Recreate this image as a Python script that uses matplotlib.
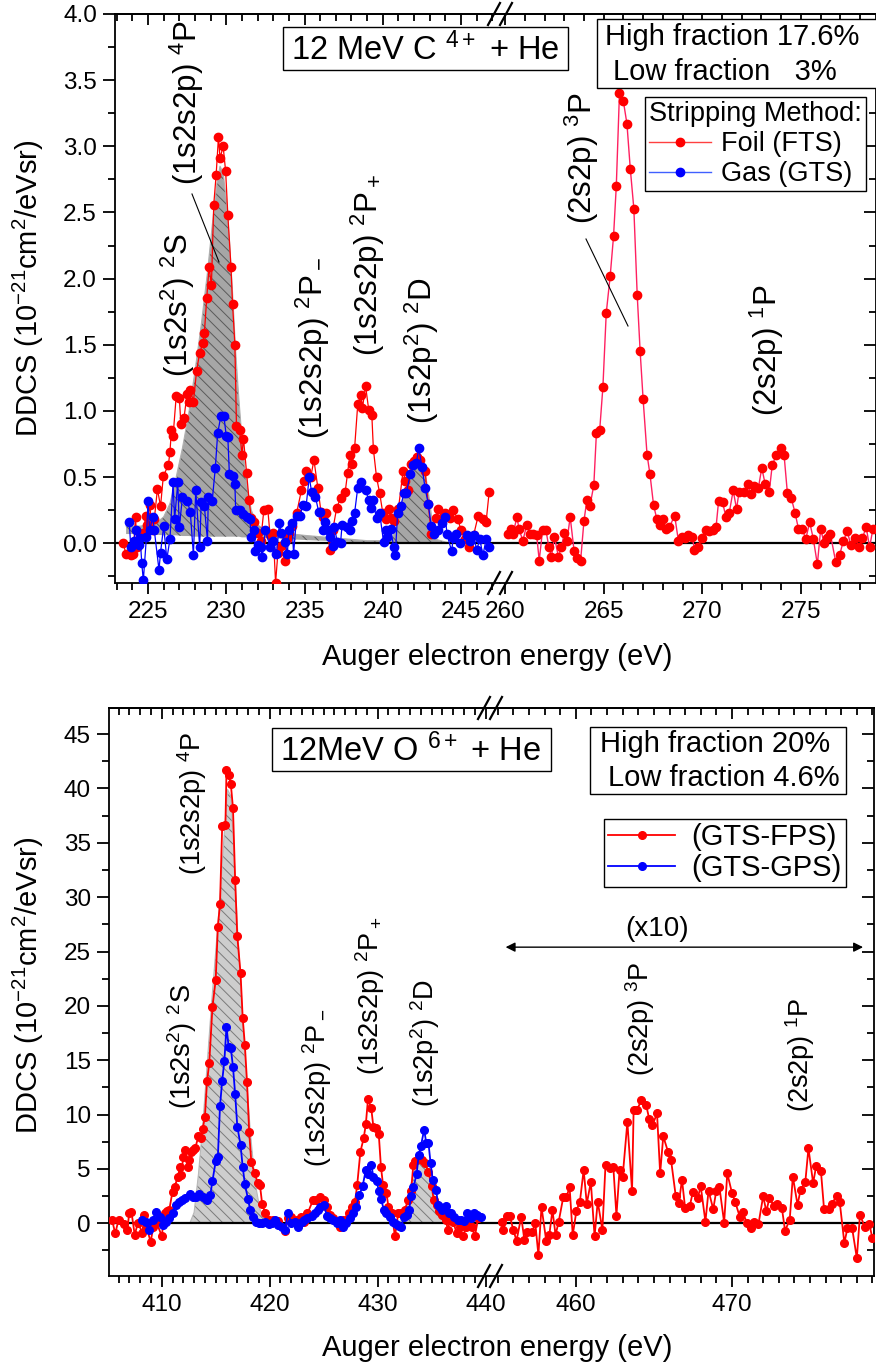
import matplotlib
matplotlib.use('Agg')
import matplotlib.pyplot as plt
from matplotlib.lines import Line2D
from matplotlib.patches import Rectangle
from matplotlib.ticker import MultipleLocator, FormatStrFormatter

plt.rcParams['font.family'] = ['Liberation Sans', 'DejaVu Sans']
plt.rcParams['mathtext.fontset'] = 'custom'
plt.rcParams['mathtext.rm'] = 'Liberation Sans'
plt.rcParams['mathtext.it'] = 'Liberation Sans:italic'
plt.rcParams['mathtext.bf'] = 'Liberation Sans:bold'
plt.rcParams['hatch.linewidth'] = 0.7

# ---------------- C4+ + He : foil stripped (low energy part) ----------------
c_foil_x = [223.4, 223.6, 223.9, 224.05, 224.2, 224.3, 224.5, 224.7, 224.86, 224.96,
            225.1, 225.3, 225.4, 225.6, 225.8, 225.98, 226.3, 226.4, 226.5, 226.6,
            226.8, 227.0, 227.1, 227.3, 227.5, 227.6, 227.7, 227.9, 228.1, 228.3,
            228.5, 228.6, 228.75, 228.9, 229.05, 229.2, 229.35, 229.5, 229.6, 229.8,
            229.96, 230.1, 230.3, 230.4, 230.55, 230.65, 230.85, 231.0, 231.1, 231.3,
            231.45, 231.6, 231.8, 232.0, 232.2, 232.4, 232.65, 232.8, 233.0, 233.15,
            233.3, 233.5, 233.75, 233.85, 234.0, 234.2, 234.5, 234.8, 234.97, 235.1,
            235.4, 235.6, 235.85, 236.05, 236.2, 236.4, 236.6, 236.8, 237.06, 237.3,
            237.6, 237.75, 237.9, 238.05, 238.2, 238.4, 238.6, 238.7, 238.9, 239.1,
            239.3, 239.4, 239.6, 239.8, 240.0, 240.2, 240.4, 240.5, 240.7, 241.0,
            241.3, 241.45, 241.6, 241.8, 242.0, 242.2, 242.4, 242.7, 242.9, 243.1,
            243.4, 243.55, 243.8, 244.0, 244.3, 244.5, 244.8, 245.0, 245.25, 245.5,
            245.8, 246.1, 246.4, 246.6, 246.8]
c_foil_y = [0.00, -0.08, -0.09, -0.08, 0.20, -0.03, 0.05, 0.08, 0.21, 0.14,
            0.29, 0.10, 0.18, 0.41, 0.28, 0.51, 0.59, 0.69, 0.86, 0.81,
            1.11, 1.10, 0.90, 0.95, 1.13, 1.07, 1.16, 1.07, 1.30, 1.44,
            1.51, 1.59, 1.85, 2.09, 1.95, 2.56, 2.78, 3.07, 2.91, 3.00,
            2.81, 2.48, 2.09, 1.81, 1.50, 0.89, 0.86, 0.67, 0.79, 0.53,
            0.33, 0.19, 0.16, 0.08, 0.02, 0.25, 0.26, 0.06, 0.08, -0.30,
            -0.07, -0.02, -0.13, 0.03, 0.08, 0.13, 0.23, 0.40, 0.47, 0.55,
            0.50, 0.63, 0.42, 0.24, 0.20, 0.23, -0.05, 0.10, 0.27, 0.34,
            0.39, 0.53, 0.67, 0.60, 0.72, 1.05, 1.12, 1.02, 1.19, 1.01,
            0.97, 0.71, 0.50, 0.38, 0.23, 0.18, 0.26, 0.19, 0.17, 0.26,
            0.55, 0.47, 0.40, 0.60, 0.62, 0.65, 0.63, 0.55, 0.30, 0.07,
            0.19, 0.26, 0.18, 0.23, 0.19, 0.25, 0.18, 0.10, 0.03, -0.03,
            0.06, 0.21, 0.18, 0.16, 0.39]

# ---------------- C4+ + He : gas stripped ----------------
c_gas_x = [223.8, 223.9, 224.1, 224.2, 224.4, 224.5, 224.6, 224.7, 224.9, 225.0,
           225.1, 225.3, 225.4, 225.7, 225.8, 226.0, 226.2, 226.4, 226.6, 226.7,
           226.9, 227.0, 227.2, 227.5, 227.7, 227.9, 228.05, 228.3, 228.4, 228.6,
           228.8, 228.85, 229.1, 229.3, 229.45, 229.65, 229.85, 230.0, 230.1, 230.2,
           230.4, 230.55, 230.6, 230.85, 231.05, 231.3, 231.5, 231.6, 231.8, 231.85,
           232.05, 232.2, 232.3, 232.5, 232.8, 233.0, 233.2, 233.4, 233.5, 233.75,
           233.9, 234.0, 234.2, 234.3, 234.5, 234.7, 234.9, 235.1, 235.3, 235.45,
           235.7, 235.9, 236.0, 236.2, 236.3, 236.5, 236.6, 236.8, 236.9, 237.1,
           237.3, 237.4, 237.7, 237.9, 238.05, 238.2, 238.4, 238.6, 238.9, 239.1,
           239.25, 239.35, 239.6, 239.8, 240.05, 240.2, 240.3, 240.5, 240.7, 240.8,
           240.95, 241.15, 241.35, 241.5, 241.75, 241.95, 242.15, 242.3, 242.5, 242.7,
           242.9, 243.1, 243.3, 243.5, 243.8, 244.0, 244.1, 244.4, 244.5, 244.7,
           244.95, 245.4, 245.6, 245.8, 246.0, 246.2, 246.4, 246.6, 246.8]
c_gas_y = [0.16, -0.03, 0.02, 0.10, -0.01, 0.04, -0.15, -0.28, 0.05, 0.32,
           0.10, 0.20, 0.10, -0.20, -0.07, 0.13, -0.12, 0.03, 0.46, 0.18,
           0.46, 0.12, 0.35, 0.32, 0.24, -0.09, 0.40, -0.03, 0.31, 0.28,
           0.02, 0.35, 0.32, 0.57, 0.83, 0.96, 0.96, 0.81, 0.80, 0.52,
           0.51, 0.45, 0.25, 0.25, 0.22, 0.20, 0.18, 0.05, 0.10, -0.06,
           -0.01, -0.03, -0.10, 0.10, -0.03, 0.02, -0.08, 0.15, 0.08, 0.01,
           -0.08, 0.10, 0.15, -0.08, 0.21, 0.21, 0.29, 0.28, 0.50, 0.39,
           0.35, 0.24, 0.24, 0.10, 0.16, 0.10, 0.05, -0.02, 0.12, 0.01,
           0.00, 0.14, 0.12, 0.10, 0.17, 0.23, 0.42, 0.46, 0.40, 0.33,
           0.27, 0.33, 0.19, 0.23, 0.01, 0.10, 0.05, 0.11, -0.03, -0.09,
           0.23, 0.28, 0.38, 0.38, 0.52, 0.59, 0.61, 0.72, 0.58, 0.42,
           0.30, 0.13, 0.07, 0.10, 0.15, 0.20, 0.07, -0.06, 0.04, 0.07,
           0.00, 0.06, 0.02, 0.06, -0.05, 0.03, -0.09, 0.03, -0.03]

# ---------------- C4+ + He : foil stripped (2s2p region) ----------------
c_hi_x = [260.16, 260.3, 260.4, 260.6, 260.7, 260.9, 261.1, 261.25, 261.4, 261.6,
          261.73, 261.9, 262.07, 262.22, 262.35, 262.5, 262.7, 262.86, 263.0, 263.14,
          263.3, 263.5, 263.65, 263.83, 264.0, 264.15, 264.3, 264.5, 264.63, 264.8,
          264.96, 265.13, 265.33, 265.5, 265.64, 265.8, 266.0, 266.18, 266.35, 266.53,
          266.7, 266.85, 267.0, 267.2, 267.35, 267.53, 267.7, 267.86, 268.0, 268.17,
          268.33, 268.6, 268.79, 268.96, 269.13, 269.3, 269.5, 269.6, 269.78, 269.97,
          270.2, 270.36, 270.53, 270.7, 270.83, 271.03, 271.2, 271.37, 271.57, 271.74,
          271.87, 272.12, 272.3, 272.46, 272.63, 272.85, 273.02, 273.19, 273.4, 273.55,
          273.76, 273.98, 274.15, 274.32, 274.52, 274.71, 274.88, 275.08, 275.25, 275.45,
          275.64, 275.84, 276.01, 276.18, 276.34, 276.5, 276.77, 276.97, 277.16, 277.36,
          277.53, 277.75, 277.95, 278.12, 278.32, 278.49, 278.66]
c_hi_y = [0.07, 0.11, 0.07, 0.20, 0.11, 0.02, 0.14, 0.07, 0.07, 0.06,
          -0.13, 0.10, 0.10, -0.03, -0.10, 0.05, -0.10, -0.03, 0.08, 0.02,
          0.20, -0.06, -0.11, -0.13, 0.17, 0.33, 0.28, 0.44, 0.83, 0.86,
          1.18, 1.74, 2.02, 2.32, 2.70, 3.40, 3.34, 3.17, 2.83, 2.53,
          1.88, 1.45, 1.09, 0.67, 0.52, 0.29, 0.18, 0.14, 0.18, 0.11,
          0.12, 0.21, 0.02, 0.05, 0.04, 0.06, 0.05, -0.05, -0.03, 0.04,
          0.10, 0.09, 0.10, 0.12, 0.32, 0.31, 0.20, 0.23, 0.40, 0.26,
          0.39, 0.39, 0.45, 0.37, 0.43, 0.42, 0.57, 0.45, 0.39, 0.59,
          0.67, 0.72, 0.67, 0.38, 0.34, 0.23, 0.11, 0.11, 0.03, 0.16,
          0.03, -0.16, 0.11, 0.00, 0.04, 0.07, -0.14, -0.09, 0.02, 0.09,
          -0.01, 0.04, -0.03, 0.04, 0.12, -0.03, 0.11]

# fitted (1s2s2p)4P and (1s2p2)2D lines for C4+
c_fit_x = [223.6, 224.5, 225.5, 226.0, 226.4, 226.8, 227.2, 227.6, 228.0, 228.4,
           228.8, 229.1, 229.4, 229.6, 229.8, 230.0, 230.2, 230.4, 230.6, 230.8,
           231.0, 231.3, 231.6, 232.0, 232.5, 233.5, 235.0, 237.0, 239.0, 240.5,
           240.9, 241.2, 241.5, 241.8, 242.0, 242.3, 242.5, 242.7, 242.9, 243.1,
           243.2, 243.4, 244.0, 244.5]
c_fit_top = [0.13, 0.13, 0.15, 0.20, 0.30, 0.50, 0.72, 0.98, 1.30, 1.65,
             2.05, 2.40, 2.72, 2.85, 2.80, 2.60, 2.30, 1.90, 1.45, 1.10,
             0.80, 0.45, 0.25, 0.14, 0.10, 0.08, 0.06, 0.04, 0.02, 0.02,
             0.12, 0.30, 0.42, 0.52, 0.58, 0.65, 0.60, 0.54, 0.40, 0.22,
             0.10, 0.03, 0.01, 0.00]
c_fit_base = [0.07, 0.07, 0.065, 0.06, 0.06, 0.06, 0.055, 0.055, 0.05, 0.05,
              0.05, 0.05, 0.05, 0.05, 0.05, 0.05, 0.05, 0.05, 0.05, 0.05,
              0.045, 0.045, 0.045, 0.04, 0.04, 0.035, 0.025, 0.015, 0.005, 0.0,
              0.0, 0.0, 0.0, 0.0, 0.0, 0.0, 0.0, 0.0, 0.0, 0.0,
              0.0, 0.0, 0.0, 0.0]

# ---------------- O6+ + He : GTS-FPS ----------------
o_fps_x = [405.4, 405.7, 406.0, 406.5, 406.8, 407.0, 407.2, 407.5, 407.8, 408.2,
           408.4, 408.6, 408.98, 409.2, 409.5, 410.0, 410.3, 410.5, 410.7, 411.0,
           411.2, 411.5, 411.7, 411.8, 412.0, 412.2, 412.4, 412.5, 412.7, 412.9,
           413.1, 413.4, 413.6, 413.8, 414.0, 414.2, 414.4, 414.7, 415.0, 415.2,
           415.4, 415.6, 415.9, 416.0, 416.2, 416.4, 416.6, 416.8, 417.0, 417.3,
           417.5, 417.7, 417.9, 418.1, 418.3, 418.6, 418.9, 419.1, 419.3, 419.6,
           419.9, 420.3, 420.8, 421.4, 421.7, 422.0, 422.5, 422.9, 423.2, 423.5,
           424.0, 424.3, 424.7, 425.0, 425.3, 425.6, 425.9, 426.3, 426.5, 426.8,
           427.3, 427.6, 427.9, 428.1, 428.4, 428.7, 428.9, 429.1, 429.4, 429.6,
           429.8, 430.1, 430.3, 430.5, 430.8, 431.0, 431.3, 431.6, 431.9, 432.2,
           432.5, 432.8, 433.1, 433.3, 433.5, 433.8, 434.1, 434.4, 434.7, 435.0,
           435.2, 435.5, 435.7, 436.0, 436.3, 436.5, 436.7, 437.0, 437.3, 437.6,
           437.9, 438.2, 438.5, 438.7, 439.0, 439.3]
o_fps_y = [0.3, -0.93, 0.3, -0.06, -0.6, 0.92, 1.04, -1.07, 0.06, -0.86,
           0.77, -0.31, -1.75, -0.37, 0.15, -1.16, 0.92, 1.17, 1.23, 2.91,
           3.37, 4.29, 5.2, 4.44, 6.1, 6.7, 5.2, 5.8, 6.6, 6.7,
           6.9, 8.0, 7.8, 8.7, 9.8, 13.1, 14.7, 19.9, 22.4, 27.3,
           29.4, 36.5, 36.6, 41.7, 41.2, 40.4, 38.2, 31.6, 26.4, 23.0,
           18.9, 16.4, 13.0, 8.4, 5.6, 4.6, 3.7, 3.5, 1.8, 0.9,
           0.3, 0.3, 0.25, -0.7, 0.46, 0.6, 0.3, 0.6, 0.15, 0.9,
           2.1, 2.1, 2.45, 2.1, 1.5, 0.8, 0.46, 0.15, -0.3, 0.3,
           0.9, 1.5, 2.0, 3.5, 6.6, 7.8, 9.1, 11.4, 10.6, 8.9,
           8.8, 8.2, 5.2, 3.5, 2.8, 1.5, 0.9, -1.2, 0.9, 0.9,
           1.2, 2.1, 3.0, 5.4, 5.7, 6.0, 5.8, 5.5, 4.7, 3.4,
           2.1, 1.7, 1.1, 0.8, 0.3, -0.6, 0.3, 0.15, -0.9, -0.3,
           -1.2, -0.3, 0.3, -0.3, -1.2, 0.46]

# ---------------- O6+ + He : GTS-GPS ----------------
o_gps_x = [408.2, 408.5, 408.8, 409.2, 409.5, 409.8, 410.1, 410.4, 410.7, 411.0,
           411.3, 411.6, 411.9, 412.2, 412.6, 412.9, 413.2, 413.5, 413.8, 414.1,
           414.2, 414.5, 414.7, 415.0, 415.2, 415.4, 415.6, 415.8, 416.0, 416.2,
           416.4, 416.6, 416.8, 417.0, 417.3, 417.5, 417.7, 418.0, 418.2, 418.5,
           418.7, 419.0, 419.3, 419.6, 419.9, 420.2, 420.5, 420.8, 421.1, 421.4,
           421.7, 422.0, 422.3, 422.6, 423.0, 423.2, 423.5, 423.9, 424.2, 424.5,
           424.7, 425.0, 425.3, 425.6, 425.9, 426.2, 426.5, 426.8, 427.1, 427.4,
           427.7, 428.0, 428.3, 428.6, 428.9, 429.1, 429.4, 429.6, 429.9, 430.1,
           430.3, 430.6, 430.8, 431.1, 431.4, 431.7, 432.0, 432.2, 432.4, 432.7,
           432.9, 433.1, 433.3, 433.6, 433.8, 434.0, 434.3, 434.5, 434.7, 434.9,
           435.1, 435.4, 435.6, 435.8, 436.0, 436.3, 436.6, 436.8, 437.1, 437.4,
           437.7, 438.0, 438.3, 438.6, 438.9, 439.2, 439.6]
o_gps_y = [0.3, 0.15, -0.6, 0.3, 1.07, 0.6, -0.15, 0.15, 0.46, 0.92,
           1.7, 2.0, 2.1, 2.3, 2.7, 2.4, 2.4, 2.7, 2.4, 2.2,
           2.1, 2.6, 3.9, 5.7, 6.1, 10.8, 13.1, 14.9, 18.1, 16.2,
           16.1, 14.4, 11.9, 8.9, 7.2, 5.2, 3.6, 2.2, 1.2, 0.6,
           0.15, 0.06, 0.0, 0.15, -0.06, 0.0, 0.3, -0.15, -0.3, -0.6,
           0.92, 0.0, 0.15, -0.3, 0.15, 0.3, 0.46, 0.7, 0.9, 1.2,
           1.5, 1.7, 0.7, 0.46, 0.3, 0.0, 0.3, -0.3, 0.0, 0.46,
           0.92, 1.5, 2.6, 3.4, 4.9, 4.5, 5.4, 4.3, 3.9, 3.0,
           2.2, 1.2, 0.9, 0.6, 0.15, -0.06, -0.25, -0.3, 0.55, 0.8,
           1.2, 2.5, 3.3, 4.5, 6.3, 7.1, 8.6, 7.4, 7.4, 5.5,
           4.0, 3.1, 1.7, 1.5, 1.2, 1.6, 0.9, 0.9, 0.6, 0.3,
           0.3, 0.25, 0.92, 0.46, 0.9, 0.8, 0.6]

# ---------------- O6+ + He : GTS-FPS 2s2p region (shown x10) ----------------
o_hi_x = [455.25, 455.35, 455.56, 455.77, 455.99, 456.2, 456.5, 456.7, 456.9, 457.2,
          457.4, 457.6, 457.8, 458.1, 458.3, 458.5, 458.7, 458.9, 459.2, 459.4,
          459.6, 459.8, 460.04, 460.26, 460.5, 460.7, 460.96, 461.2, 461.4, 461.7,
          461.9, 462.2, 462.4, 462.6, 462.8, 463.0, 463.3, 463.6, 463.7, 463.9,
          464.2, 464.5, 464.7, 464.9, 465.2, 465.4, 465.6, 465.9, 466.1, 466.4,
          466.6, 466.8, 467.0, 467.3, 467.5, 467.8, 468.0, 468.3, 468.5, 468.8,
          469.0, 469.2, 469.5, 469.7, 470.0, 470.2, 470.5, 470.7, 470.95, 471.2,
          471.4, 471.7, 472.0, 472.2, 472.4, 472.7, 472.9, 473.2, 473.4, 473.7,
          473.9, 474.2, 474.4, 474.7, 474.9, 475.2, 475.4, 475.7, 475.9, 476.2,
          476.4, 476.7, 476.9, 477.2, 477.4, 477.7, 478.0, 478.2, 478.5, 478.8,
          479.0]
o_hi_y = [0.15, -0.6, 0.67, 0.67, -0.6, -1.6, 0.6, -1.5, -0.77, -0.77,
          0.0, -2.9, 1.5, -1.6, -1.07, 1.2, -1.07, 0.15, 2.45, 2.45,
          3.3, -1.07, 1.17, 2.0, 4.9, 1.8, 3.8, -1.2, 2.0, -0.6,
          5.4, 5.1, 5.2, 0.7, 4.9, 4.3, 9.3, 3.0, 10.4, 10.4,
          11.3, 10.9, 9.6, 9.0, 10.1, 4.6, 8.0, 6.6, 5.8, 2.5,
          1.9, 4.0, 1.4, 1.6, 2.9, 2.3, 3.4, 0.15, 3.0, 1.3,
          3.0, 3.3, 0.06, 4.6, 2.8, 2.0, 0.6, 1.0, 0.06, -0.46,
          0.15, -0.06, 2.5, 1.1, 2.3, 1.6, 1.8, 1.4, -0.67, 0.3,
          4.3, 1.7, 3.1, 3.8, 6.9, 3.7, 5.3, 4.8, 1.3, 1.3,
          1.8, 2.5, 2.0, -1.8, -0.46, -0.46, -3.2, 0.77, -0.3, -0.06,
          -1.4]

# fitted (1s2s2p)4P and (1s2p2)2D lines for O6+
o_fit_x = [412.6, 413.0, 413.4, 413.8, 414.2, 414.6, 415.0, 415.4, 415.8, 416.1,
           416.4, 416.7, 417.0, 417.3, 417.6, 417.9, 418.2, 418.5, 418.8, 419.1,
           419.5, 420.0, 432.0, 432.4, 432.8, 433.2, 433.6, 433.9, 434.2, 434.6,
           435.0, 435.4, 435.8, 436.3, 437.0]
o_fit_y = [0.0, 1.0, 4.5, 9.0, 14.5, 20.0, 25.0, 30.0, 36.0, 39.9,
           39.3, 34.0, 27.5, 22.5, 17.0, 12.8, 8.5, 5.3, 2.9, 1.3,
           0.3, 0.0, 0.0, 0.6, 2.2, 4.2, 5.8, 6.5, 6.3, 5.0,
           3.4, 1.9, 0.9, 0.3, 0.0]

# ---------------------------------------------------------------------------
W, H = 876, 1370
fig = plt.figure(figsize=(W / 100, H / 100), dpi=100)


def rect(x0, y0, x1, y1):
    return [x0 / W, 1 - y1 / H, (x1 - x0) / W, (y1 - y0) / H]


def fxy(x, y):
    return (x / W, 1 - y / H)


TICK_FS = 17.5
LABEL_FS = 21
NOTE_FS_TOP = 22.5
NOTE_FS_BOT = 19.5
SPINE_LW = 1.3


def style_axes(ax, xlim, ylim, xmaj, xmin, ymaj, ymin, side):
    ax.set_xlim(*xlim)
    ax.set_ylim(*ylim)
    ax.xaxis.set_major_locator(MultipleLocator(xmaj))
    ax.xaxis.set_minor_locator(MultipleLocator(xmin))
    ax.yaxis.set_major_locator(MultipleLocator(ymaj))
    ax.yaxis.set_minor_locator(MultipleLocator(ymin))
    for s in ax.spines.values():
        s.set_linewidth(SPINE_LW)
    ax.tick_params(axis='x', which='both', direction='out', bottom=True, top=False,
                   labelsize=TICK_FS, width=SPINE_LW, pad=5)
    ax.tick_params(axis='x', which='major', length=8)
    ax.tick_params(axis='x', which='minor', length=5)
    sec = ax.secondary_xaxis('top')
    sec.xaxis.set_major_locator(MultipleLocator(xmaj))
    sec.xaxis.set_minor_locator(MultipleLocator(xmin))
    sec.tick_params(which='both', direction='in', labeltop=False, width=SPINE_LW)
    sec.tick_params(which='major', length=8)
    sec.tick_params(which='minor', length=5)
    sec.spines['top'].set_linewidth(SPINE_LW)
    if side == 'left':
        ax.spines['right'].set_visible(False)
        ax.tick_params(axis='y', which='both', direction='out', left=True, right=False,
                       labelsize=TICK_FS, width=SPINE_LW, pad=4)
        ax.tick_params(axis='y', which='major', length=9)
        ax.tick_params(axis='y', which='minor', length=5)
    else:
        ax.spines['left'].set_visible(False)
        ax.tick_params(axis='y', which='both', direction='in', left=False, right=True,
                       labelleft=False, labelright=False, width=SPINE_LW)
        ax.tick_params(axis='y', which='major', length=9)
        ax.tick_params(axis='y', which='minor', length=5)
    ax.axhline(0, color='black', lw=1.6, zorder=2)


def break_marks(xc, ytop, ybot):
    for yy in (ytop, ybot):
        for dx in (-6, 6):
            x0, y0 = fxy(xc + dx - 6, yy + 11)
            x1, y1 = fxy(xc + dx + 6, yy - 11)
            fig.add_artist(Line2D([x0, x1], [y0, y1], color='black', lw=1.6,
                                  transform=fig.transFigure, zorder=10))


def vlabel(x, y, s, fs):
    fig.text(*fxy(x, y), s, rotation=90, ha='center', va='center', fontsize=fs)


def box(x0, y0, x1, y1):
    fig.add_artist(Rectangle(fxy(x0, y1), (x1 - x0) / W, (y1 - y0) / H,
                             transform=fig.transFigure, fill=True, facecolor='white',
                             edgecolor='black', lw=1.0, zorder=5))


MS = 6
RED, BLUE = '#ff0000', '#0000ff'

# ============================ upper panel =================================
ax1 = fig.add_axes(rect(115, 14, 500, 583))
ax2 = fig.add_axes(rect(500, 14, 875.5, 583))
style_axes(ax1, (222.89, 247.49), (-0.3, 4.0), 5, 1, 0.5, 0.25, 'left')
style_axes(ax2, (259.74, 278.79), (-0.3, 4.0), 5, 1, 0.5, 0.25, 'right')
ax1.yaxis.set_major_formatter(FormatStrFormatter('%.1f'))

ax1.fill_between(c_fit_x, c_fit_base, c_fit_top, facecolor='#a6a6a6', edgecolor='#5a5a5a',
                 hatch='\\\\\\', linewidth=0, zorder=1)
ax1.plot(c_fit_x, c_fit_top, color='#b0b0b0', lw=0.8, zorder=1)
ax1.plot(c_foil_x, c_foil_y, '-o', color=RED, lw=0.9, ms=MS, zorder=3)
ax1.plot(c_gas_x, c_gas_y, '-o', color=BLUE, lw=0.9, ms=MS, zorder=4)
ax2.plot(c_hi_x, c_hi_y, '-', color='#ff2060', lw=1.0, zorder=3)
ax2.plot(c_hi_x, c_hi_y, 'o', color=RED, ms=MS, zorder=4)

break_marks(500, 14, 583)

fig.text(*fxy(28, 288), r'DDCS (10$^{-21}$cm$^2$/eVsr)', rotation=90,
         ha='center', va='center', fontsize=LABEL_FS)
fig.text(*fxy(497, 657), 'Auger electron energy (eV)', ha='center', va='center',
         fontsize=LABEL_FS)

vlabel(178, 305, r'(1s2s$^2$) $^2$S', NOTE_FS_TOP)
vlabel(187, 103, r'(1s2s2p) $^4$P', NOTE_FS_TOP)
vlabel(313, 348, r'(1s2s2p) $^2$P$_-$', NOTE_FS_TOP)
vlabel(368, 265, r'(1s2s2p) $^2$P$_+$', NOTE_FS_TOP)
vlabel(422, 350, r'(1s2p$^2$) $^2$D', NOTE_FS_TOP)
vlabel(582, 158, r'(2s2p) $^3$P', NOTE_FS_TOP)
vlabel(767, 350, r'(2s2p) $^1$P', NOTE_FS_TOP)
fig.add_artist(Line2D([fxy(192, 194)[0], fxy(219, 262)[0]], [fxy(192, 194)[1], fxy(219, 262)[1]],
                      color='black', lw=0.8, transform=fig.transFigure))
fig.add_artist(Line2D([fxy(586, 239)[0], fxy(628, 326)[0]], [fxy(586, 239)[1], fxy(628, 326)[1]],
                      color='black', lw=0.8, transform=fig.transFigure))

box(283, 27, 568, 70)
fig.text(*fxy(425, 50), r'12 MeV C $^{4+}$ + He', ha='center', va='center', fontsize=23.5,
         zorder=6)
box(597, 19, 878, 88)
fig.text(*fxy(605, 37), 'High fraction 17.6%', ha='left', va='center', fontsize=21, zorder=6)
fig.text(*fxy(613, 72), 'Low fraction   3%', ha='left', va='center', fontsize=21, zorder=6)

h_foil = Line2D([], [], color='#ff4040', lw=1.0, marker='o', ms=MS, mfc=RED, mec=RED)
h_gas = Line2D([], [], color='#4060ff', lw=1.0, marker='o', ms=MS, mfc=BLUE, mec=BLUE)
leg1 = fig.legend([h_foil, h_gas], ['Foil (FTS)', 'Gas (GTS)'], title='Stripping Method:',
                  loc='upper right', bbox_to_anchor=fxy(866, 97), fontsize=19.5,
                  title_fontsize=19.5, frameon=True, fancybox=False, edgecolor='black',
                  framealpha=1, handlelength=2.3, handletextpad=0.35, borderpad=0.15,
                  labelspacing=0.15, borderaxespad=0)
leg1.get_frame().set_linewidth(1.0)
leg1._legend_box.align = 'left'

# ============================ lower panel =================================
ax3 = fig.add_axes(rect(109, 708, 490, 1276))
ax4 = fig.add_axes(rect(490, 708, 874, 1276))
style_axes(ax3, (405.12, 440.4), (-4.85, 47.4), 10, 1, 5, 2.5, 'left')
style_axes(ax4, (454.5, 479.1), (-4.85, 47.4), 10, 1, 5, 2.5, 'right')

ax3.fill_between(o_fit_x, 0, o_fit_y, facecolor='#cdcdcd', edgecolor='#7a7a7a',
                 hatch='\\\\\\', linewidth=0, zorder=1)
ax3.plot(o_fit_x, o_fit_y, color='#b8b8b8', lw=0.8, zorder=1)
ax3.plot(o_fps_x, o_fps_y, '-o', color=RED, lw=1.3, ms=5.5, zorder=3)
ax3.plot(o_gps_x, o_gps_y, '-o', color=BLUE, lw=1.3, ms=5.5, zorder=4)
ax4.plot(o_hi_x, o_hi_y, '-o', color=RED, lw=1.3, ms=5.5, zorder=3)

ax4.annotate('', xy=(478.4, 25.4), xytext=(455.5, 25.4),
             arrowprops=dict(arrowstyle='<|-|>', color='black', lw=1.0,
                             mutation_scale=14, shrinkA=0, shrinkB=0))
ax4.text(465.2, 25.9, '(x10)', ha='center', va='bottom', fontsize=20)

break_marks(490, 708, 1276)

fig.text(*fxy(28, 985), r'DDCS (10$^{-21}$cm$^2$/eVsr)', rotation=90,
         ha='center', va='center', fontsize=LABEL_FS)
fig.text(*fxy(497, 1348), 'Auger electron energy (eV)', ha='center', va='center',
         fontsize=LABEL_FS)

vlabel(182, 1047, r'(1s2s$^2$) $^2$S', NOTE_FS_BOT)
vlabel(192, 803, r'(1s2s2p) $^4$P', NOTE_FS_BOT)
vlabel(317, 1088, r'(1s2s2p) $^2$P$_-$', NOTE_FS_BOT)
vlabel(370, 996, r'(1s2s2p) $^2$P$_+$', NOTE_FS_BOT)
vlabel(425, 1043, r'(1s2p$^2$) $^2$D', NOTE_FS_BOT)
vlabel(640, 1019, r'(2s2p) $^3$P', NOTE_FS_BOT)
vlabel(800, 1055, r'(2s2p) $^1$P', NOTE_FS_BOT)

box(272, 728, 551, 771)
fig.text(*fxy(411, 751), r'12MeV O $^{6+}$ + He', ha='center', va='center', fontsize=23.5,
         zorder=6)
box(590, 727, 846, 794)
fig.text(*fxy(600, 744), 'High fraction 20%', ha='left', va='center', fontsize=21, zorder=6)
fig.text(*fxy(608, 778), 'Low fraction 4.6%', ha='left', va='center', fontsize=21, zorder=6)

h_fps = Line2D([], [], color=RED, lw=1.3, marker='o', ms=5.5)
h_gps = Line2D([], [], color=BLUE, lw=1.3, marker='o', ms=5.5)
leg2 = fig.legend([h_fps, h_gps], ['(GTS-FPS)', '(GTS-GPS)'], loc='upper right',
                  bbox_to_anchor=fxy(846, 819), fontsize=21, frameon=True, fancybox=False,
                  edgecolor='black', framealpha=1, handlelength=2.3, handletextpad=0.55,
                  borderpad=0.15, labelspacing=0.1, borderaxespad=0)
leg2.get_frame().set_linewidth(1.0)

fig.savefig('out.png', dpi=100)
